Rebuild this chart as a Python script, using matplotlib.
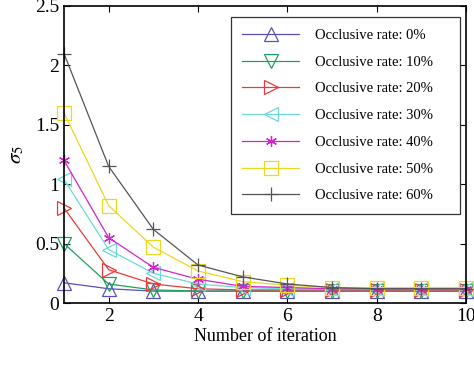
import matplotlib.pyplot as plt

plt.rcParams['font.family'] = ['Liberation Serif', 'DejaVu Serif']
plt.rcParams['mathtext.fontset'] = 'stix'

iterations = [1, 2, 3, 4, 5, 6, 7, 8, 9, 10]
rates = ['0%', '10%', '20%', '30%', '40%', '50%', '60%']

sigma_0 = [0.17, 0.12, 0.10, 0.10, 0.10, 0.10, 0.10, 0.10, 0.10, 0.10]
sigma_10 = [0.50, 0.16, 0.11, 0.10, 0.10, 0.10, 0.10, 0.10, 0.10, 0.10]
sigma_20 = [0.80, 0.28, 0.16, 0.12, 0.11, 0.11, 0.11, 0.11, 0.11, 0.11]
sigma_30 = [1.04, 0.45, 0.25, 0.16, 0.13, 0.12, 0.12, 0.12, 0.12, 0.12]
sigma_40 = [1.20, 0.55, 0.30, 0.20, 0.14, 0.13, 0.12, 0.12, 0.12, 0.12]
sigma_50 = [1.60, 0.82, 0.47, 0.27, 0.18, 0.15, 0.13, 0.13, 0.13, 0.13]
sigma_60 = [2.10, 1.15, 0.62, 0.32, 0.22, 0.16, 0.13, 0.12, 0.12, 0.12]

series = [sigma_0, sigma_10, sigma_20, sigma_30, sigma_40, sigma_50, sigma_60]
colors = ['#5a50b8', '#1fa060', '#e83a3a', '#6dd8d8', '#d025c8', '#ecd820', '#555555']
# MATLAB-style asterisk for 40%
markers = ['^', 'v', '>', '<', (6, 2, 0), 's', '+']

fig = plt.figure(figsize=(4.74, 3.66), dpi=100)
ax = fig.add_axes([64 / 474, 1 - 303 / 366, 402 / 474, 297 / 366])

for vals, rate, c, m in zip(series, rates, colors, markers):
    ms = 8 if m == (6, 2, 0) else 10
    ax.plot(iterations, vals, color=c, marker=m, markersize=ms,
            markerfacecolor='none', markeredgecolor=c, linewidth=0.9,
            markeredgewidth=0.9, label='Occlusive rate: ' + rate, clip_on=False)

ax.set_xlim(1, 10)
ax.set_ylim(0, 2.5)
ax.set_xticks([2, 4, 6, 8, 10])
ax.set_yticks([0, 0.5, 1, 1.5, 2, 2.5])
ax.set_yticklabels(['0', '0.5', '1', '1.5', '2', '2.5'])
ax.tick_params(direction='in', top=True, right=True, labelsize=14, length=4)
for s in ax.spines.values():
    s.set_linewidth(1.2)

ax.set_xlabel('Number of iteration', fontsize=13, labelpad=2)
ax.set_ylabel(r'$\sigma_5$', fontsize=15, labelpad=6)

leg = ax.legend(loc='upper left', bbox_to_anchor=(0.415, 0.963, 0.57, 0.0),
                mode='expand', fontsize=10.5,
                handlelength=3.9, handletextpad=1.1, labelspacing=0.93,
                borderpad=0.8, borderaxespad=0, fancybox=False,
                edgecolor='#333333', framealpha=1)
leg.get_frame().set_linewidth(0.9)

fig.savefig('out.png', dpi=100)
